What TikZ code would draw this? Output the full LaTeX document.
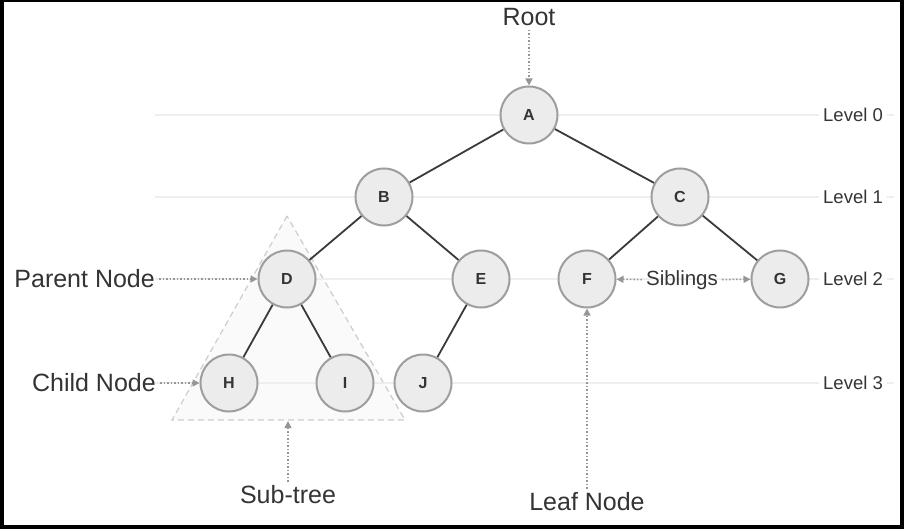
\documentclass[tikz,border=0pt]{standalone}
\usepackage{fontspec}
\setmainfont{Liberation Sans}
\usepackage{tikz}
\usetikzlibrary{arrows.meta}
\definecolor{edge}{RGB}{58,58,58}
\definecolor{ring}{RGB}{158,158,158}
\definecolor{disc}{RGB}{236,236,236}
\definecolor{guide}{RGB}{238,238,238}
\definecolor{pointer}{RGB}{150,150,150}
\definecolor{ink}{RGB}{52,52,52}
\definecolor{subtree}{RGB}{250,250,250}
\definecolor{subedge}{RGB}{205,205,205}
\newcommand{\drawedge}{\draw[edge, line width=1.8pt]}
\newcommand{\drawpointer}{\draw[pointer, line width=1.5pt, dotted, -{Triangle[length=7pt,width=7pt]}]}
\newcommand{\levelguide}[2]{
    \draw[guide, line width=1.2pt] (155,#2)--(894,#2);
    \node[levelname] (level#1) at (853,#2) {Level #1};
}
\tikzset{
  treenode/.style={circle, draw=ring, fill=disc, line width=2pt, minimum size=57pt, inner sep=0pt,
    text=ink, font=\fontsize{16}{16}\selectfont\bfseries},
  callout/.style={text=ink, inner sep=4pt, font=\fontsize{25}{25}\selectfont},
  levelname/.style={text=ink, fill=white, inner sep=4pt, font=\fontsize{18.5}{18.5}\selectfont}
}

\begin{document}
\begin{tikzpicture}[x=1pt, y=-1pt]
\fill[black] (0,0) rectangle (904,529);
\fill[white] (4,2) rectangle (900,525);
\draw[subedge, dash pattern=on 6pt off 4pt, line width=1.2pt, fill=subtree] (287,216)--(172,420)--(405,420)--cycle;
\levelguide{0}{115}\levelguide{1}{197}\levelguide{2}{279}\levelguide{3}{383}
\node[treenode] (A) at (529,115) {A};
\node[treenode] (B) at (384,197) {B};
\node[treenode] (C) at (680,197) {C};
\node[treenode] (D) at (287,279) {D};
\node[treenode] (E) at (481,279) {E};
\node[treenode] (F) at (587,279) {F};
\node[treenode] (G) at (780,279) {G};
\node[treenode] (H) at (229,383) {H};
\node[treenode] (I) at (345,383) {I};
\node[treenode] (J) at (423,383) {J};
\drawedge (A)--(B); \drawedge (A)--(C);
\drawedge (B)--(D); \drawedge (B)--(E);
\drawedge (C)--(F); \drawedge (C)--(G);
\drawedge (D)--(H); \drawedge (D)--(I);
\drawedge (E)--(J);
\node[callout] (root) at (529,17) {Root};
\node[callout, anchor=east] (parent) at (159,279) {Parent Node};
\node[callout, anchor=east] (child) at (160,383) {Child Node};
\node[callout] (sub) at (288,495) {Sub-tree};
\node[callout] (leaf) at (587,502) {Leaf Node};
\node[callout, font=\fontsize{20.5}{20.5}\selectfont] (siblings) at (682,280) {Siblings};
\coordinate (subtop) at (288,421);
\drawpointer (root)--(A);
\drawpointer (parent)--(D);
\drawpointer (child)--(H);
\drawpointer (sub)--(subtop);
\drawpointer (leaf)--(F);
\drawpointer (siblings)--(F);
\drawpointer (siblings)--(G);
\end{tikzpicture}
\end{document}
